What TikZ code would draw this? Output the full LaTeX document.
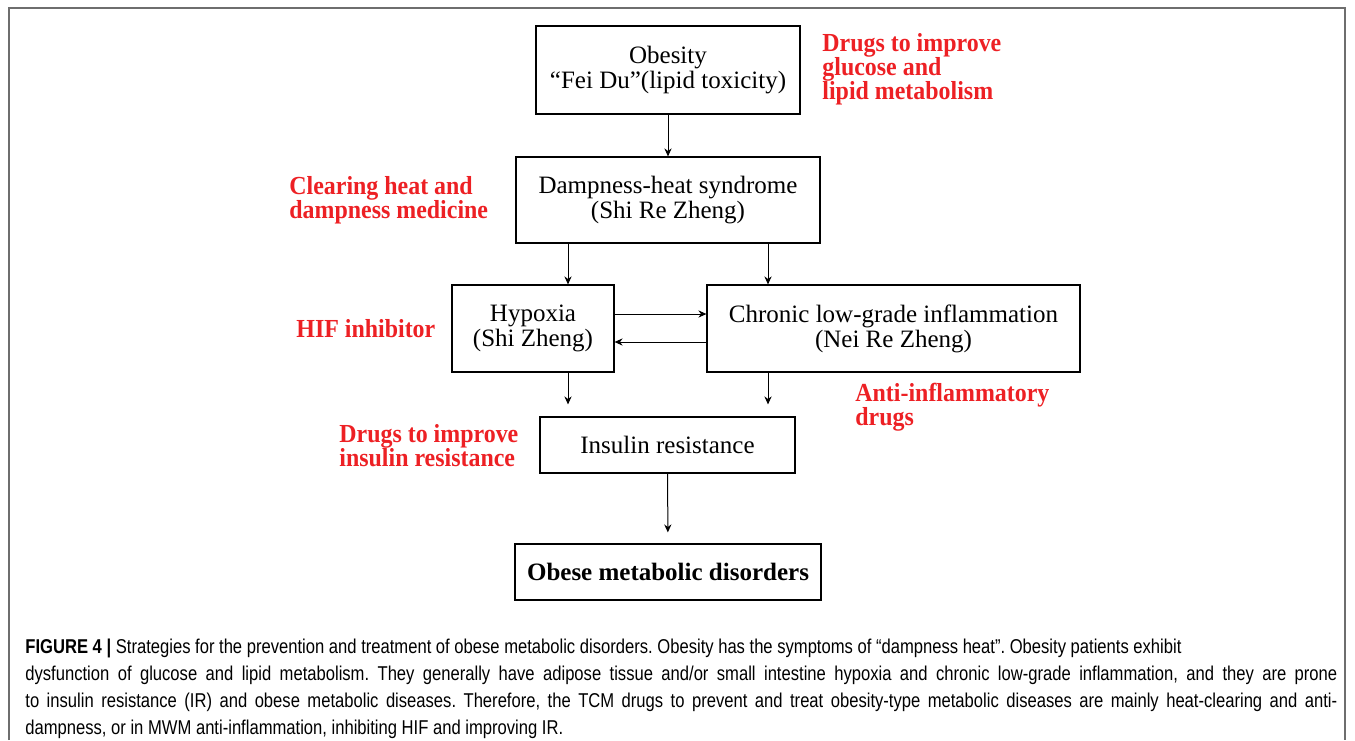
\documentclass[tikz,border=0pt]{standalone}
\usepackage{fontspec}
\setmainfont{Liberation Serif}
\newfontfamily\capfont[FakeStretch=0.83]{Liberation Sans}
\newfontfamily\drugface[FakeStretch=0.92]{Liberation Serif}
\usetikzlibrary{arrows.meta}
\definecolor{drugred}{RGB}{237,32,36}
\definecolor{framegray}{RGB}{110,110,110}
\newcommand{\boxfont}{\fontsize{12.5}{12.5}\selectfont}
\newcommand{\drugfont}{\drugface\bfseries\fontsize{13}{12}\selectfont}

\begin{document}
\begin{tikzpicture}[x=0.5pt,y=-0.5pt,
    box/.style={draw, line width=0.6pt, align=center, inner sep=0pt, font=\boxfont},
    drug/.style={text=drugred, align=left, anchor=west, inner sep=0pt, font=\drugfont},
    arr/.style={-{Stealth[length=4pt,width=3.6pt]}, line width=0.5pt}]
  \useasboundingbox (0,0) rectangle (1355,740);
  \draw[framegray, line width=0.8pt] (9,740) -- (9,8) -- (1345,8) -- (1345,740);
  % flow boxes
  \node[box, minimum width=132pt, minimum height=44pt]   (obes) at (668,70)    {Obesity\\“Fei Du”(lipid toxicity)};
  \node[box, minimum width=152pt, minimum height=43pt]   (damp) at (668,200)   {Dampness-heat syndrome\\(Shi Re Zheng)};
  \node[box, minimum width=81pt,  minimum height=43.5pt] (hyp)  at (533,328.5) {Hypoxia\\(Shi Zheng)};
  \node[box, minimum width=186.5pt, minimum height=43.5pt] (chr) at (893.5,328.5) {Chronic low-grade inflammation\\(Nei Re Zheng)};
  \node[box, minimum width=127.5pt, minimum height=28pt] (ins)  at (667.5,445) {Insulin resistance};
  \node[box, minimum width=153pt, minimum height=28pt, font=\boxfont\bfseries] (omd) at (668,572) {Obese metabolic disorders};
  \coordinate (lcol) at (568,0);
  \coordinate (rcol) at (768,0);
  % drugs
  \node[drug] (dglu) at (822,69)  {Drugs to improve\\glucose and\\lipid metabolism};
  \node[drug] (dclr) at (289,200) {Clearing heat and\\dampness medicine};
  \node[drug] (dhif) at (296,329) {HIF inhibitor};
  \node[drug] (dinf) at (855,407) {Anti-inflammatory\\drugs};
  \node[drug] (dins) at (339,446) {Drugs to improve\\insulin resistance};
  % arrows
  \draw[arr] (obes) -- (damp);
  \draw[arr] (damp.south -| lcol) -- (hyp.north -| lcol);
  \draw[arr] (damp.south -| rcol) -- (chr.north -| rcol);
  \draw[arr] ([yshift=7.25pt]hyp.east) -- ([yshift=7.25pt]chr.west);
  \draw[arr] ([yshift=-6.75pt]chr.west) -- ([yshift=-6.75pt]hyp.east);
  \draw[arr, shorten >=6pt] (hyp.south -| lcol) -- (ins.north -| lcol);
  \draw[arr, shorten >=6pt] (chr.south -| rcol) -- (ins.north -| rcol);
  \draw[arr, shorten >=5.5pt] (ins) -- (omd);
  % caption
  \node[anchor=north west, inner sep=0pt, text width=656pt, align=justify,
        font=\capfont\fontsize{10}{13.5}\selectfont\frenchspacing] (cap) at (25,639)
    {\textbf{FIGURE 4 |} Strategies for the prevention and treatment of obese metabolic disorders. Obesity has the symptoms of “dampness heat”. Obesity patients exhibit\newline
     dysfunction of glucose and lipid metabolism. They generally have adipose tissue and/or small intestine hypoxia and chronic low-grade inflammation, and they are prone\linebreak
     to insulin resistance (IR) and obese metabolic diseases. Therefore, the TCM drugs to prevent and treat obesity-type metabolic diseases are mainly heat-clearing and anti-\linebreak
     dampness, or in MWM anti-inflammation, inhibiting HIF and improving IR.};
\end{tikzpicture}
\end{document}
